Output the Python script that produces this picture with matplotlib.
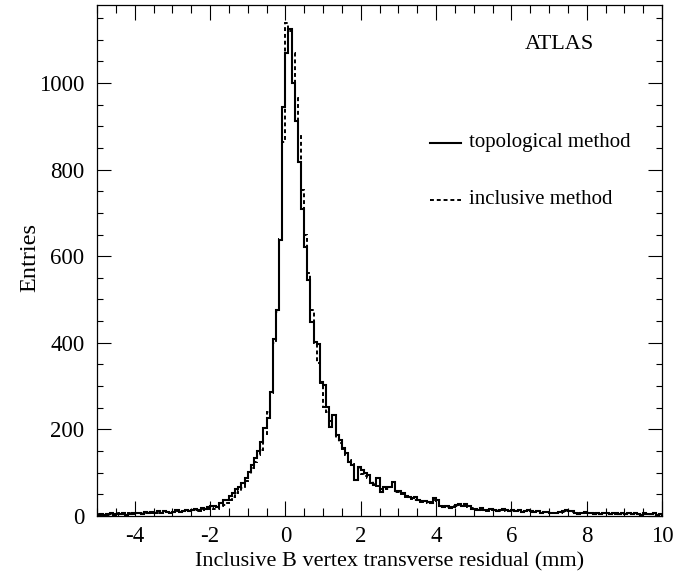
import numpy as np
import matplotlib
matplotlib.use("Agg")
import matplotlib.pyplot as plt
from matplotlib.ticker import MultipleLocator

plt.rcParams['font.family'] = ['Liberation Serif', 'DejaVu Serif']
plt.rcParams['axes.unicode_minus'] = False

x_min, x_max, n_bins = -5.0, 10.0, 180

# topological method (solid), 12 bins per unit from -5 to 10
topological = [
    3, 5, 2, 4, 6, 3, 5, 4, 7, 3, 5, 6,
    6, 8, 5, 9, 7, 10, 6, 11, 8, 12, 9, 7,
    10, 13, 9, 12, 15, 11, 14, 17, 13, 19, 16, 20,
    22, 24, 21, 30, 37, 38, 46, 52, 62, 67, 76, 88,
    102, 118, 134, 150, 172, 203, 226, 287, 409, 476, 637, 944,
    1070, 1125, 999, 911, 818, 708, 622, 545, 449, 402, 398, 310,
    302, 252, 206, 233, 187, 176, 157, 145, 125, 118, 83, 114,
    106, 99, 95, 76, 72, 88, 56, 68, 66, 68, 79, 58,
    58, 52, 46, 44, 41, 43, 38, 35, 34, 32, 30, 41,
    38, 24, 20, 22, 19, 21, 25, 28, 24, 27, 22, 17,
    16, 15, 18, 14, 13, 16, 15, 12, 14, 17, 13, 12,
    14, 11, 13, 10, 12, 15, 11, 9, 12, 8, 10, 9,
    7, 8, 6, 9, 11, 13, 12, 11, 6, 5, 7, 9,
    6, 8, 5, 7, 4, 6, 8, 5, 7, 6, 4, 7,
    5, 7, 4, 6, 5, 3, 6, 4, 5, 7, 3, 5,
]

# inclusive method (dashed)
inclusive = [
    4, 3, 5, 3, 5, 4, 6, 3, 5, 4, 6, 5,
    7, 6, 8, 7, 9, 6, 10, 8, 7, 11, 9, 8,
    9, 12, 10, 11, 13, 12, 13, 15, 12, 16, 14, 17,
    18, 16, 17, 22, 26, 30, 38, 44, 52, 57, 64, 80,
    97, 110, 124, 140, 152, 190, 240, 285, 400, 470, 640, 864,
    1139, 1120, 1070, 965, 880, 753, 650, 560, 475, 400, 353, 307,
    252, 240, 220, 205, 180, 168, 155, 140, 130, 120, 100, 110,
    98, 92, 88, 80, 74, 70, 62, 64, 62, 66, 70, 55,
    55, 50, 44, 42, 40, 38, 36, 33, 34, 31, 32, 38,
    34, 22, 22, 20, 21, 23, 24, 25, 22, 24, 20, 18,
    15, 16, 14, 15, 12, 15, 14, 13, 12, 15, 12, 11,
    12, 12, 11, 10, 11, 13, 10, 10, 11, 9, 9, 8,
    8, 7, 7, 8, 10, 12, 11, 10, 7, 6, 6, 8,
    6, 7, 6, 6, 5, 6, 7, 5, 6, 5, 5, 6,
    5, 6, 4, 5, 5, 4, 5, 4, 4, 6, 3, 4,
]

edges = np.linspace(x_min, x_max, n_bins + 1)

fig = plt.figure(figsize=(6.94, 5.76), dpi=100)
ax = fig.add_axes([97/694, 60/576, 565/694, 511/576])

ax.stairs(inclusive, edges, color='black', linewidth=1.4, linestyle=(0, (2, 1.5)))
ax.stairs(topological, edges, color='black', linewidth=1.5)

ax.set_xlim(x_min, x_max)
ax.set_ylim(0, 1180)

ax.xaxis.set_major_locator(MultipleLocator(2))
ax.xaxis.set_minor_locator(MultipleLocator(0.5))
ax.yaxis.set_major_locator(MultipleLocator(200))
ax.yaxis.set_minor_locator(MultipleLocator(50))

ax.tick_params(axis='both', which='both', direction='in', top=True, right=True, width=0.8, labelsize=16.5)
ax.tick_params(axis='x', which='major', length=11, pad=7)
ax.tick_params(axis='x', which='minor', length=5.5)
ax.tick_params(axis='y', which='major', length=10, pad=9)
ax.tick_params(axis='y', which='minor', length=4.5)
for s in ax.spines.values():
    s.set_linewidth(0.9)

ax.set_xlabel('Inclusive B vertex transverse residual (mm)', fontsize=16)
ax.set_ylabel('Entries', fontsize=17.5)
ax.xaxis.set_label_coords((390-97)/565, (516-552)/511)
ax.yaxis.set_label_coords((40-97)/565, (516-257)/511)

ax.text((559-97)/565, (516-44.5)/511, 'ATLAS', transform=ax.transAxes,
        ha='center', va='center', fontsize=16)

# legend
ax.plot([(430-97)/565, (461-97)/565], [(516-143)/511]*2, transform=ax.transAxes,
        color='black', linewidth=1.5)
ax.text((469-97)/565, (516-143)/511, 'topological method', transform=ax.transAxes,
        ha='left', va='center', fontsize=15)
ax.plot([(430-97)/565, (461-97)/565], [(516-200)/511]*2, transform=ax.transAxes,
        color='black', linewidth=1.4, linestyle=(0, (2, 1.5)))
ax.text((469-97)/565, (516-200)/511, 'inclusive method', transform=ax.transAxes,
        ha='left', va='center', fontsize=15)

fig.savefig('out.png', dpi=100)
